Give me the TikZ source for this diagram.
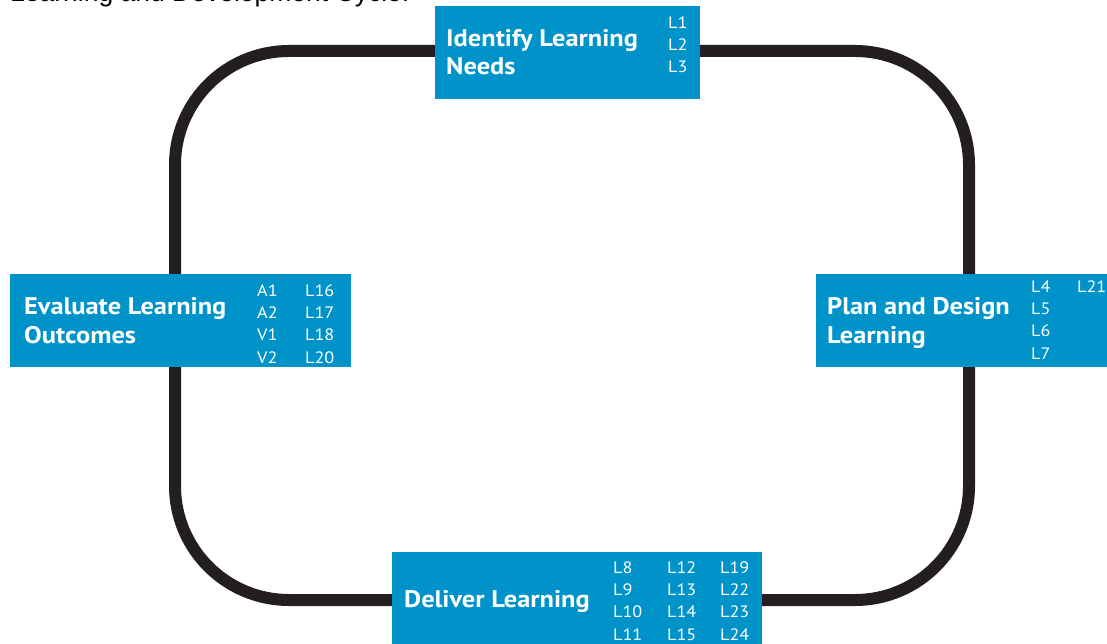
\documentclass[tikz,border=0pt]{standalone}
\usepackage{fontspec}
\setmainfont{PT Sans}[FakeStretch=1.1]
\newfontfamily\headfont{Liberation Sans}
\usetikzlibrary{backgrounds}

\definecolor{stageblue}{RGB}{0,147,201}
\definecolor{loopblack}{RGB}{35,31,32}

\tikzset{
	stage/.style = {rectangle, fill=stageblue, inner sep=0pt, outer sep=0pt},
	stagetitle/.style = {anchor=base west, inner sep=0pt, text=white, align=left,
		font=\fontsize{24}{28.5}\selectfont\bfseries},
	unitlist/.style = {anchor=base west, inner sep=0pt, text=white, align=left,
		font=\fontsize{16.5}{22.3}\selectfont},
	cycleline/.style = {line width=12pt, draw=loopblack, rounded corners=114pt}
}

\begin{document}
\begin{tikzpicture}[x=1pt, y=-1pt]
	\useasboundingbox (0,0) rectangle (1107,644);

	\node[anchor=base west, inner sep=0pt, font=\headfont\fontsize{26.5}{30}\selectfont] (heading) at (10,2) {Learning and Development Cycle:};

	% the four stages
	\node[stage, minimum width=265pt, minimum height=93pt] (identify) at (567.5,52.5) {};
	\node[stage, minimum width=291pt, minimum height=93pt] (plan) at (961.5,320.5) {};
	\node[stage, minimum width=370pt, minimum height=92pt] (deliver) at (577,598) {};
	\node[stage, minimum width=341pt, minimum height=93pt] (evaluate) at (180.5,320.5) {};

	% texts sit on the baseline of their last line
	\node[stagetitle] (identifytitle) at ([shift={(11,69)}]identify.north west) {Identify Learning\\Needs};
	\node[unitlist] (identifyunits) at ([shift={(233,67)}]identify.north west) {L1\\L2\\L3};

	\node[stagetitle] (plantitle) at ([shift={(11,69)}]plan.north west) {Plan and Design\\Learning};
	\node[unitlist] (planunits) at ([shift={(215,85)}]plan.north west) {L4\\L5\\L6\\L7};
	\node[unitlist] (planextra) at ([shift={(261,18)}]plan.north west) {L21};

	\node[stagetitle] (delivertitle) at ([shift={(12,55)}]deliver.north west) {Deliver Learning};
	\node[unitlist] (deliverunitsa) at ([shift={(221,88)}]deliver.north west) {L8\\L9\\L10\\L11};
	\node[unitlist] (deliverunitsb) at ([shift={(275,88)}]deliver.north west) {L12\\L13\\L14\\L15};
	\node[unitlist] (deliverunitsc) at ([shift={(328,88)}]deliver.north west) {L19\\L22\\L23\\L24};

	\node[stagetitle] (evaluatetitle) at ([shift={(14,69)}]evaluate.north west) {Evaluate Learning\\Outcomes};
	\node[unitlist] (evaluateunitsa) at ([shift={(247,89)}]evaluate.north west) {A1\\A2\\V1\\V2};
	\node[unitlist] (evaluateunitsb) at ([shift={(295,89)}]evaluate.north west) {L16\\L17\\L18\\L20};

	% the cycle runs behind the boxes
	\begin{pgfonlayer}{background}
		\draw[cycleline] ([yshift=1.5pt]identify.center) -| ([xshift=7.5pt]plan.center);
		\draw[cycleline] ([xshift=7.5pt]plan.center) |- ([yshift=-2pt]deliver.center);
		\draw[cycleline] ([yshift=-2pt]deliver.center) -| ([xshift=-5.5pt]evaluate.center);
		\draw[cycleline] ([xshift=-5.5pt]evaluate.center) |- ([yshift=1.5pt]identify.center);
	\end{pgfonlayer}
\end{tikzpicture}
\end{document}
